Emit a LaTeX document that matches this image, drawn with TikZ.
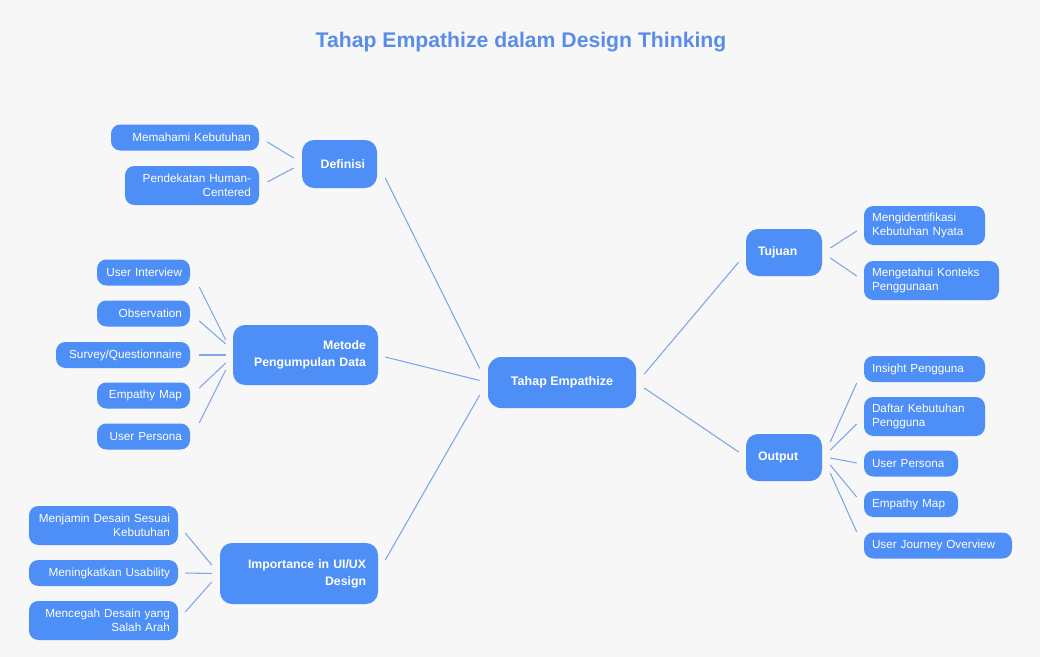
\documentclass[tikz,border=0pt]{standalone}
\usepackage{fontspec}
\setmainfont{Liberation Sans}
\usepackage{xcolor}
\usepackage{tikz}
\usetikzlibrary{positioning,calc}

\definecolor{nodeblue}{HTML}{4D8EF7}
\definecolor{titleblue}{HTML}{5A8DE8}
\definecolor{linkblue}{HTML}{7FA6E8}
\definecolor{paper}{HTML}{F7F7F8}

\begin{document}
\begin{tikzpicture}[x=0.75pt, y=-0.75pt,
    root/.style={rectangle, rounded corners=10pt, fill=nodeblue, text=white, font=\fontsize{9.4}{12.75}\selectfont\bfseries, minimum width=111pt, minimum height=38.25pt, inner sep=0pt},
    topic/.style={rectangle, rounded corners=9pt, fill=nodeblue, text=white, font=\fontsize{9.2}{12.75}\selectfont\bfseries, inner xsep=9pt, inner ysep=0pt},
    leaf/.style={rectangle, rounded corners=7pt, fill=nodeblue, text=white, font=\fontsize{8.8}{10.5}\selectfont, inner xsep=6pt, inner ysep=0pt, minimum height=19.5pt},
    leaftwo/.style={leaf, minimum height=29.25pt},
    link/.style={draw=linkblue, line width=0.8pt}]
  \fill[paper] (0,0) rectangle (1040,657);
  \useasboundingbox (0,0) rectangle (1040,657);

  \node[font=\fontsize{15.9}{19}\selectfont\bfseries, text=titleblue] (title) at (521,42) {Tahap Empathize dalam Design Thinking};

  % center
  \node[root] (empathize) at (562,382.5) {Tahap Empathize};

  % left branches
  \node[topic, text width=38.25pt, align=right, minimum height=36pt] (definisi) at (339.5,164) {Definisi};
  \node[topic, text width=90.75pt, align=right, minimum height=45pt] (metode) at (305.5,355) {Metode\\Pengumpulan Data};
  \node[topic, text width=100.5pt, align=right, minimum height=45.75pt] (importance) at (299,573.5) {Importance in UI/UX\\Design};

  % right branches
  \node[topic, text width=39pt, align=left, minimum height=35.25pt] (tujuan) at (784,252.5) {Tujuan};
  \node[topic, text width=39pt, align=left, minimum height=35.25pt] (output) at (784,457.5) {Output};

  % leaves of Definisi
  \node[leaf, text width=99pt, align=right] (memahami) at (185,137.5) {Memahami Kebutuhan};
  \node[leaftwo, text width=88.5pt, align=right] (pendekatan) at (192,185.5) {Pendekatan Human-\\Centered};

  % leaves of Metode
  \node[leaf, text width=57.75pt, align=right] (interview) at (143.5,272.5) {User Interview};
  \node[leaf, text width=57.75pt, align=right] (observation) at (143.5,313.5) {Observation};
  \node[leaf, text width=88.5pt, align=right] (survey) at (123,355) {Survey/Questionnaire};
  \node[leaf, text width=57.75pt, align=right] (empmap) at (143.5,395.5) {Empathy Map};
  \node[leaf, text width=57.75pt, align=right] (persona) at (143.5,436.5) {User Persona};

  % leaves of Importance
  \node[leaftwo, text width=99.75pt, align=right] (menjamin) at (103.5,525.5) {Menjamin Desain Sesuai\\Kebutuhan};
  \node[leaf, text width=99.75pt, align=right] (usability) at (103.5,573) {Meningkatkan Usability};
  \node[leaftwo, text width=99.75pt, align=right] (mencegah) at (103.5,620.5) {Mencegah Desain yang\\Salah Arah};

  % leaves of Tujuan
  \node[leaftwo, text width=78.75pt, align=left] (identifikasi) at (924.5,225.5) {Mengidentifikasi\\Kebutuhan Nyata};
  \node[leaftwo, text width=89.25pt, align=left] (konteks) at (931.5,280.5) {Mengetahui Konteks\\Penggunaan};

  % leaves of Output
  \node[leaf, text width=78.75pt, align=left] (insight) at (924.5,369) {Insight Pengguna};
  \node[leaftwo, text width=78.75pt, align=left] (daftar) at (924.5,416.5) {Daftar Kebutuhan\\Pengguna};
  \node[leaf, text width=58.5pt, align=left] (outpersona) at (911,463.5) {User Persona};
  \node[leaf, text width=58.5pt, align=left] (outmap) at (911,504) {Empathy Map};
  \node[leaf, text width=99pt, align=left] (journey) at (938,545.5) {User Journey Overview};

  % center links
  \draw[link] ([shift={(8,14)}]definisi.east) -- ([shift={(-8,-14)}]empathize.west);
  \draw[link] ([shift={(7,2)}]metode.east) -- ([shift={(-8,-2)}]empathize.west);
  \draw[link] ([shift={(7,-13.5)}]importance.east) -- ([shift={(-8,12.5)}]empathize.west);
  \draw[link] ([shift={(8,-8.5)}]empathize.east) -- ([shift={(-7,9.5)}]tujuan.west);
  \draw[link] ([shift={(8,5.5)}]empathize.east) -- ([shift={(-7,-5.5)}]output.west);

  % leaf links
  \draw[link] ([shift={(8,4.5)}]memahami.east) -- ([shift={(-8,-6)}]definisi.west);
  \draw[link] ([shift={(8,-3.5)}]pendekatan.east) -- ([shift={(-8,4)}]definisi.west);

  \draw[link] ([shift={(9,14.5)}]interview.east) -- ([shift={(-7,-15)}]metode.west);
  \draw[link] ([shift={(9,7.5)}]observation.east) -- ([shift={(-7,-11)}]metode.west);
  \draw[link] ([shift={(9,0)}]survey.east) -- ([shift={(-7,0)}]metode.west);
  \draw[link] ([shift={(9,-7.5)}]empmap.east) -- ([shift={(-7,8)}]metode.west);
  \draw[link] ([shift={(9,-13.5)}]persona.east) -- ([shift={(-7,15)}]metode.west);

  \draw[link] ([shift={(7,7.5)}]menjamin.east) -- ([shift={(-8,-8.5)}]importance.west);
  \draw[link] ([shift={(7,0)}]usability.east) -- ([shift={(-8,0)}]importance.west);
  \draw[link] ([shift={(7,-8.5)}]mencegah.east) -- ([shift={(-8,8.5)}]importance.west);

  \draw[link] ([shift={(8,-4.5)}]tujuan.east) -- ([shift={(-7,5.5)}]identifikasi.west);
  \draw[link] ([shift={(8,5.5)}]tujuan.east) -- ([shift={(-7,-4.5)}]konteks.west);

  \draw[link] ([shift={(8,-15.5)}]output.east) -- ([shift={(-7,14)}]insight.west);
  \draw[link] ([shift={(8,-7.5)}]output.east) -- ([shift={(-7,7.5)}]daftar.west);
  \draw[link] ([shift={(8,0.5)}]output.east) -- ([shift={(-7,-0.5)}]outpersona.west);
  \draw[link] ([shift={(8,7.5)}]output.east) -- ([shift={(-7,-7)}]outmap.west);
  \draw[link] ([shift={(8,15.5)}]output.east) -- ([shift={(-7,-13.5)}]journey.west);
\end{tikzpicture}
\end{document}
